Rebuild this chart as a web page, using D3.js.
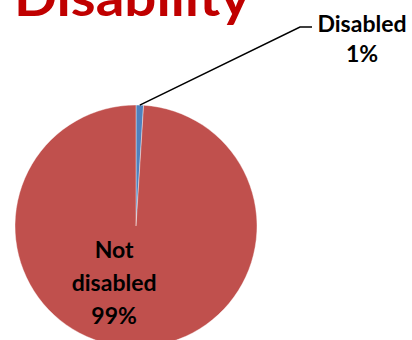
<!DOCTYPE html>
<html>
<head>
<meta charset="utf-8">
<script src="https://cdn.jsdelivr.net/npm/d3@7"></script>
<style>
  body { margin: 0; background: #fff; }
  svg { display: block; }
</style>
</head>
<body>
<svg id="chart" width="412" height="340"></svg>
<script>
const title = 'Disability';
const categories = ['Disabled', 'Not disabled'];
const values = [1, 99];
const pctLabels = ['1%', '99%'];
const colors = ['#4F81BD', '#C0504D'];

const width = 412, height = 340;
const cx = 136, cy = 226, radius = 121;
const font = 'Lato, "Open Sans", sans-serif';

const svg = d3.select('#chart');

svg.append('text')
    .attr('x', 14)
    .attr('y', 16)
    .attr('font-family', font)
    .attr('font-weight', 'bold')
    .attr('font-size', 52)
    .attr('fill', '#C00000')
    .attr('textLength', 236)
    .attr('lengthAdjust', 'spacingAndGlyphs')
    .text(title);

const data = categories.map((c, i) => ({ name: c, value: values[i], pct: pctLabels[i], color: colors[i] }));

const pie = d3.pie().sort(null).value(d => d.value);
const arcs = pie(data);
const arc = d3.arc().innerRadius(0).outerRadius(radius);

const g = svg.append('g').attr('transform', `translate(${cx},${cy})`);

g.selectAll('path.slice')
    .data(arcs)
    .enter()
    .append('path')
    .attr('class', 'slice')
    .attr('d', arc)
    .attr('fill', d => d.data.color)
    .attr('stroke', '#fff')
    .attr('stroke-width', 0.4);

// Disabled: outside label with leader line
const small = arcs[0];
const edge = d3.arc().innerRadius(radius).outerRadius(radius).centroid(small);
const elbow = [164, -199];
const lineEnd = [176, -199];
g.append('polyline')
    .attr('points', [edge, elbow, lineEnd].map(p => p.join(',')).join(' '))
    .attr('fill', 'none')
    .attr('stroke', '#000')
    .attr('stroke-width', 1.5);

const outLabel = g.append('text')
    .attr('font-family', font)
    .attr('font-weight', 'bold')
    .attr('font-size', 23)
    .attr('fill', '#000')
    .attr('text-anchor', 'middle');
outLabel.append('tspan').attr('x', 226).attr('y', -194).text(small.data.name);
outLabel.append('tspan').attr('x', 226).attr('y', -164).text(small.data.pct);

// Not disabled: inside label
const big = arcs[1];
const labelArc = d3.arc().innerRadius(radius * 0.5).outerRadius(radius * 0.5);
const [lx, ly] = labelArc.centroid(big);
const inLabel = g.append('text')
    .attr('font-family', font)
    .attr('font-weight', 'bold')
    .attr('font-size', 23)
    .attr('fill', '#000')
    .attr('text-anchor', 'middle');
const lines = ['Not', 'disabled', big.data.pct];
lines.forEach((t, i) => {
    inLabel.append('tspan')
        .attr('x', lx - 20)
        .attr('y', ly - 28 + i * 33)
        .text(t);
});
</script>
</body>
</html>
